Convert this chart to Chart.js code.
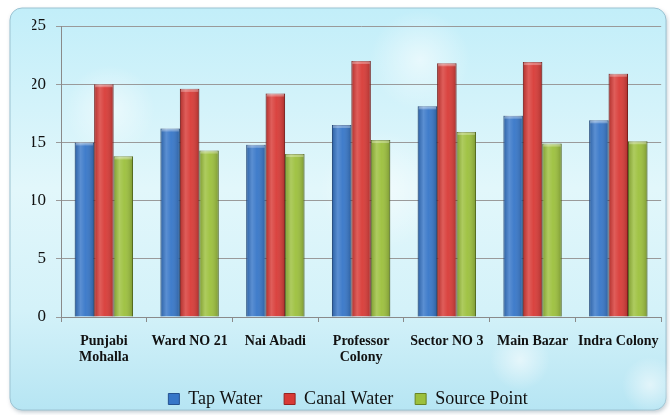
<!DOCTYPE html>
<html>
<head>
<meta charset="utf-8">
<script src="https://cdn.jsdelivr.net/npm/chart.js@4/dist/chart.umd.min.js"></script>
<style>
  html, body { margin: 0; padding: 0; background: #fff; }
  #wrap { width: 670px; height: 415px; }
</style>
</head>
<body>
<div id="wrap"><canvas id="myChart" width="670" height="415"></canvas></div>
<script>
const categories = [["Punjabi", "Mohalla"], "Ward NO 21", "Nai Abadi", ["Professor", "Colony"], "Sector NO 3", "Main Bazar", "Indra Colony"];
const tapWater = [15.0, 16.2, 14.8, 16.5, 18.1, 17.3, 16.9];
const canalWater = [20.0, 19.6, 19.2, 22.0, 21.8, 21.9, 20.9];
const sourcePoint = [13.8, 14.3, 14.0, 15.2, 15.9, 14.9, 15.1];
const yTicks = [0, 5, 10, 15, 20, 25];

const serif = "Times New Roman, Liberation Serif, DejaVu Serif, serif";
Chart.defaults.font.family = serif;
Chart.defaults.color = "#111";

// panel background, rounded with a soft cyan gradient
const panelBg = {
  id: "panelBg",
  beforeDraw(chart) {
    const c = chart.ctx;
    const x = 10, y = 8, w = 656, h = 402, r = 12;
    c.save();
    c.beginPath();
    c.roundRect(x, y, w, h, r);
    const g = c.createLinearGradient(0, y, 0, y + h);
    g.addColorStop(0, "#c2eef9");
    g.addColorStop(0.45, "#e2f7fb");
    g.addColorStop(0.75, "#d4f2f9");
    g.addColorStop(1, "#b6e5f3");
    c.fillStyle = g;
    c.shadowColor = "rgba(60,90,110,0.35)";
    c.shadowBlur = 4;
    c.shadowOffsetX = 1;
    c.shadowOffsetY = 2;
    c.fill();
    c.shadowColor = "transparent";
    c.lineWidth = 1;
    c.strokeStyle = "#9cc3d2";
    c.stroke();
    // a few soft light spots
    const spots = [[110, 110, 45], [380, 190, 60], [520, 360, 30], [650, 385, 28], [420, 60, 50]];
    spots.forEach(([sx, sy, sr]) => {
      const rg = c.createRadialGradient(sx, sy, 0, sx, sy, sr);
      rg.addColorStop(0, "rgba(255,255,255,0.55)");
      rg.addColorStop(1, "rgba(255,255,255,0)");
      c.fillStyle = rg;
      c.beginPath();
      c.arc(sx, sy, sr, 0, Math.PI * 2);
      c.fill();
    });
    c.restore();
  },
};

// glossy shading on each bar
const barShine = {
  id: "barShine",
  afterDatasetsDraw(chart) {
    const c = chart.ctx;
    chart.data.datasets.forEach((ds, i) => {
      const meta = chart.getDatasetMeta(i);
      meta.data.forEach((bar) => {
        const left = bar.x - bar.width / 2;
        const g = c.createLinearGradient(left, 0, left + bar.width, 0);
        g.addColorStop(0, "rgba(0,0,0,0.18)");
        g.addColorStop(0.3, "rgba(255,255,255,0.18)");
        g.addColorStop(0.55, "rgba(255,255,255,0.05)");
        g.addColorStop(1, "rgba(0,0,0,0.22)");
        c.save();
        c.fillStyle = g;
        c.fillRect(left, bar.y, bar.width, bar.base - bar.y);
        c.fillStyle = "rgba(255,255,255,0.3)";
        c.fillRect(left + 1, bar.y, bar.width - 2, 3);
        c.restore();
      });
    });
  },
};

const ctx = document.getElementById("myChart");

new Chart(ctx, {
  type: "bar",
  data: {
    labels: categories,
    datasets: [
      {
        label: "Tap Water",
        data: tapWater,
        backgroundColor: "rgb(54, 118, 200)",
        borderColor: "rgb(36, 82, 145)",
        borderWidth: 1,
      },
      {
        label: "Canal Water",
        data: canalWater,
        backgroundColor: "rgb(216, 58, 54)",
        borderColor: "rgb(150, 36, 34)",
        borderWidth: 1,
      },
      {
        label: "Source Point",
        data: sourcePoint,
        backgroundColor: "rgb(156, 192, 60)",
        borderColor: "rgb(104, 132, 36)",
        borderWidth: 1,
      },
    ],
  },
  options: {
    responsive: false,
    animation: false,
    devicePixelRatio: 1,
    layout: {
      padding: { top: 26, right: 6, left: 32, bottom: -3 },
    },
    datasets: {
      bar: { categoryPercentage: 0.68, barPercentage: 1.0 },
    },
    scales: {
      x: {
        afterFit(scale) { scale.height = 51; },
        grid: {
          offset: true,
          drawOnChartArea: false,
          tickLength: 5,
          color: "#8a8a8a",
        },
        border: { display: true, color: "#8a8a8a" },
        ticks: {
          color: "#111",
          padding: 11,
          maxRotation: 0,
          autoSkip: false,
          font: { family: serif, size: 14, weight: "bold", lineHeight: 1.15 },
        },
      },
      y: {
        min: 0,
        max: 25,
        afterFit(scale) { scale.width = 29; },
        afterBuildTicks(scale) { scale.ticks = yTicks.map((v) => ({ value: v })); },
        grid: { color: "#9a9a9a", tickLength: 5 },
        border: { display: true, color: "#8a8a8a" },
        ticks: {
          color: "#111",
          padding: 10,
          font: { family: serif, size: 17 },
        },
      },
    },
    plugins: {
      legend: {
        position: "bottom",
        labels: {
          color: "#111",
          boxWidth: 11,
          boxHeight: 11,
          padding: 22,
          font: { family: serif, size: 18, lineHeight: 1.0 },
        },
      },
      tooltip: { enabled: false },
    },
  },
  plugins: [panelBg, barShine],
});
</script>
</body>
</html>
